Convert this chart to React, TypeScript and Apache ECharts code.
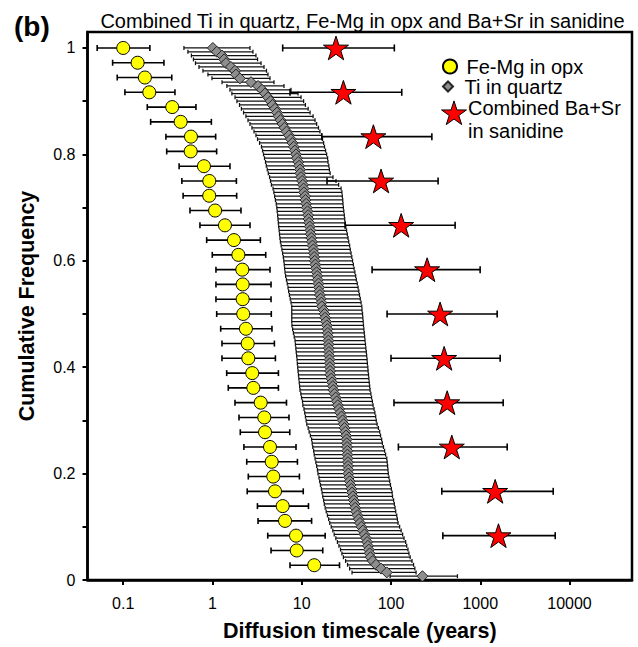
import { useEffect, useRef } from 'react';
import * as echarts from 'echarts';

// ---------- tick labels ----------
const xTickValues = [0.1, 1, 10, 100, 1000, 10000];
const yTickLabelValues = [0, 0.2, 0.4, 0.6, 0.8, 1];
const yTickValues = [0, 0.1, 0.2, 0.3, 0.4, 0.5, 0.6, 0.7, 0.8, 0.9, 1];

// ---------- Fe-Mg in opx (years), ordered from cumulative frequency 1 downward ----------
const opxTime = [0.1, 0.145, 0.175, 0.196, 0.354, 0.44, 0.574, 0.57, 0.803, 0.921, 0.92, 1.07, 1.38, 1.74, 1.95, 2.16, 2.18, 2.18, 2.21, 2.37, 2.48, 2.52, 2.79, 2.87, 3.47, 3.81, 3.88, 4.41, 4.61, 4.8, 5.02, 6.12, 6.5, 8.63, 8.79, 13.8];
const opxLow = [0.0511, 0.0761, 0.0857, 0.1045, 0.186, 0.203, 0.301, 0.307, 0.423, 0.454, 0.469, 0.56, 0.724, 0.861, 0.995, 1.094, 1.094, 1.094, 1.115, 1.236, 1.278, 1.278, 1.443, 1.504, 1.787, 1.982, 2.05, 2.25, 2.42, 2.52, 2.45, 3.19, 3.24, 4.16, 4.53, 7.39];
const opxHigh = [0.199, 0.286, 0.35, 0.38, 0.653, 0.972, 1.086, 1.114, 1.571, 1.854, 1.867, 2.087, 2.633, 3.44, 3.95, 4.41, 4.53, 4.53, 4.56, 4.64, 4.94, 5.07, 5.48, 5.48, 6.75, 7.2, 7.34, 8.63, 8.95, 9.42, 10.4, 11.9, 12.9, 18.3, 17.2, 26.5];

// ---------- Ti in quartz (years) ----------
const tiTime = [
  1.01, 1.12, 1.28, 1.35, 1.42, 1.61, 1.79, 1.83, 2.03, 2.7,
  3.24, 3.59, 3.88, 4.19, 4.47, 4.71, 5.02, 5.28, 5.5, 5.78,
  6.09, 6.41, 6.76, 7.2, 7.55, 7.85, 8.13, 8.37, 8.63, 8.85,
  9.16, 9.33, 9.57, 9.64, 9.82, 10.1, 10.3, 10.5, 10.6, 10.9,
  11.0, 11.2, 11.4, 11.6, 11.8, 11.9, 12.1, 12.3, 12.5, 12.6,
  12.8, 13.0, 13.2, 13.5, 13.7, 13.8, 14.0, 14.2, 14.5, 14.7,
  14.9, 15.1, 15.4, 15.6, 15.7, 16.0, 16.3, 16.6, 16.8, 17.6,
  18.0, 18.3, 18.7, 19.1, 19.4, 19.6, 19.8, 19.9, 20.0, 20.1,
  20.2, 20.3, 20.5, 20.6, 20.7, 20.8, 20.9, 21.4, 21.9, 22.3,
  22.6, 23.3, 24.0, 24.7, 25.4, 26.2, 27.0, 27.9, 28.7, 29.5,
  30.2, 30.8, 31.4, 31.9, 32.0, 32.2, 32.4, 32.5, 32.7, 32.9,
  33.0, 33.2, 33.3, 33.9, 34.5, 35.2, 36.0, 36.6, 37.4, 38.2,
  39.0, 39.7, 40.8, 42.1, 43.6, 44.9, 46.6, 48.4, 50.5, 52.6,
  54.0, 55.1, 56.4, 57.7, 59.0, 62.5, 68.1, 77.4, 89.7, 225
];
const tiLow = [
  0.479, 0.531, 0.581, 0.612, 0.645, 0.706, 0.782, 0.89, 0.987, 1.28,
  1.45, 1.57, 1.65, 1.79, 1.88, 2.01, 2.11, 2.23, 2.37, 2.5,
  2.63, 2.77, 2.92, 3.07, 3.2, 3.37, 3.54, 3.64, 3.73, 3.83,
  3.93, 4.01, 4.11, 4.22, 4.36, 4.47, 4.58, 4.77, 4.87, 4.97,
  5.07, 5.18, 5.26, 5.31, 5.37, 5.42, 5.47, 5.52, 5.58, 5.64,
  5.7, 5.77, 5.88, 6.0, 6.11, 6.22, 6.3, 6.37, 6.43, 6.5,
  6.6, 6.74, 6.88, 7.02, 7.13, 7.28, 7.43, 7.59, 7.73, 7.73,
  7.73, 7.73, 7.73, 7.77, 7.91, 8.07, 8.24, 8.41, 8.5, 8.59,
  8.68, 8.77, 8.86, 8.93, 9.02, 9.09, 9.19, 9.28, 9.38, 9.47,
  9.57, 9.77, 9.95, 10.2, 10.3, 10.6, 10.8, 11.0, 11.2, 11.4,
  11.8, 12.1, 12.5, 12.9, 13.1, 13.3, 13.6, 13.8, 14.1, 14.4,
  14.7, 15.0, 15.2, 15.6, 15.9, 16.2, 16.6, 16.9, 17.2, 17.6,
  17.9, 18.3, 18.8, 19.4, 20.0, 20.6, 21.4, 22.3, 23.1, 24.1,
  25.1, 26.1, 27.2, 28.2, 29.3, 31.0, 32.6, 34.4, 36.6, 97.7
];
const tiHigh = [
  2.63, 2.84, 3.07, 3.2, 3.5, 3.78, 4.03, 4.19, 4.41, 4.89,
  6.33, 7.59, 9.09, 9.82, 10.5, 11.0, 11.8, 12.4, 13.4, 14.1,
  14.7, 15.4, 16.0, 16.7, 17.1, 17.6, 18.0, 18.5, 19.0, 19.5,
  19.7, 20.1, 20.4, 20.8, 22.4, 24.2, 25.9, 27.6, 28.2, 28.5,
  28.8, 29.0, 29.3, 29.6, 30.0, 30.3, 30.6, 31.2, 31.8, 32.4,
  33.0, 33.6, 34.4, 35.0, 35.7, 36.4, 37.1, 37.9, 38.6, 39.4,
  40.2, 40.9, 41.9, 42.8, 43.6, 44.4, 45.3, 46.2, 47.1, 47.4,
  48.0, 48.4, 48.8, 49.2, 49.7, 50.2, 50.7, 51.2, 51.8, 52.3,
  52.9, 53.4, 54.0, 54.4, 55.0, 55.4, 56.0, 56.5, 57.1, 57.7,
  58.3, 59.5, 60.6, 61.9, 63.0, 64.6, 66.0, 67.4, 68.4, 69.9,
  72.3, 74.7, 76.4, 78.6, 80.1, 82.4, 84.8, 87.0, 89.7, 90.7,
  91.6, 92.5, 93.3, 95.0, 96.7, 98.7, 101, 103, 104, 107,
  109, 111, 113, 116, 118, 120, 125, 130, 135, 140,
  146, 150, 155, 159, 164, 172, 179, 185, 191, 555
];

// ---------- Combined Ba+Sr in sanidine (years) ----------
const sanTime = [24.2, 29.3, 63.5, 77.4, 130, 254, 355, 394, 426, 480, 1469, 1600];
const sanLow = [6.12, 7.39, 16.8, 19.2, 30.6, 61.4, 90.4, 100, 108, 121, 371, 381];
const sanHigh = [109, 132, 287, 337, 523, 997, 1547, 1671, 1806, 2003, 6566, 6914];

const FONT = "'Liberation Sans', Arial, sans-serif";
const STAR = 'path://M50,0L61.2,34.5L97.6,34.5L68.2,55.9L79.4,90.5L50,69.1L20.6,90.5L31.8,55.9L2.4,34.5L38.8,34.5Z';
const DIAMOND = 'path://M5,0L10,5L5,10L0,5Z';

const lg = (v: number) => Math.log10(v);
const cum = (n: number, i: number) => (n - i) / n;

// five-pointed star outline (legend glyph)
function starPoints(cx: number, cy: number, R: number) {
  const pts: number[][] = [];
  for (let k = 0; k < 10; k++) {
    const r = k % 2 === 0 ? R : R * 0.382;
    const a = -Math.PI / 2 + (k * Math.PI) / 5;
    pts.push([cx + r * Math.cos(a), cy + r * Math.sin(a)]);
  }
  return pts;
}

function errBar(lineWidth: number, cap: number, color: string) {
  return (_params: any, api: any) => {
    const y = api.value(2);
    const a = api.coord([api.value(0), y]);
    const b = api.coord([api.value(1), y]);
    const style = { stroke: color, lineWidth, fill: 'none' };
    return {
      type: 'group',
      children: [
        { type: 'line', shape: { x1: a[0], y1: a[1], x2: b[0], y2: b[1] }, style },
        { type: 'line', shape: { x1: a[0], y1: a[1] - cap, x2: a[0], y2: a[1] + cap }, style },
        { type: 'line', shape: { x1: b[0], y1: b[1] - cap, x2: b[0], y2: b[1] + cap }, style },
      ],
    };
  };
}

export default function App() {
  const ref = useRef<HTMLDivElement>(null);
  useEffect(() => {
    if (!ref.current) return;
    const chart = echarts.init(ref.current, null, { renderer: 'svg' });

    const opxPts = opxTime.map((t, i) => [lg(t), cum(opxTime.length, i)]);
    const opxBars = opxTime.map((_t, i) => [lg(opxLow[i]), lg(opxHigh[i]), cum(opxTime.length, i)]);
    const tiPts = tiTime.map((t, i) => [lg(t), cum(tiTime.length, i)]);
    const tiBars = tiTime.map((_t, i) => [lg(tiLow[i]), lg(tiHigh[i]), cum(tiTime.length, i)]);
    const sanPts = sanTime.map((t, i) => [lg(t), cum(sanTime.length, i)]);
    const sanBars = sanTime.map((_t, i) => [lg(sanLow[i]), lg(sanHigh[i]), cum(sanTime.length, i)]);

    const xTicks = xTickValues.map(lg);
    const legendText = { fontSize: 20, color: '#000', fontFamily: FONT };

    chart.setOption({
      animation: false,
      textStyle: { fontFamily: FONT },
      title: [
        {
          text: 'Combined Ti in quartz, Fe-Mg in opx and Ba+Sr in sanidine',
          left: 362.5, top: 10.5, textAlign: 'center', padding: 0,
          textStyle: { fontSize: 20, fontWeight: 'normal', color: '#000', fontFamily: FONT },
        },
        {
          text: '(b)', left: 14, top: 12, padding: 0,
          textStyle: { fontSize: 28, fontWeight: 'bold', color: '#000', fontFamily: FONT },
        },
      ],
      legend: [
        {
          data: [{ name: 'Fe-Mg in opx', icon: 'circle' }],
          left: 442, top: 56.5, itemWidth: 23, itemHeight: 14, padding: 0,
          selectedMode: false, textStyle: legendText,
        },
        {
          data: [{ name: 'Ti in quartz', icon: DIAMOND }],
          left: 442, top: 76.5, itemWidth: 23, itemHeight: 10, padding: 0,
          selectedMode: false, textStyle: legendText,
        },
      ],
      graphic: [
        {
          type: 'polygon', silent: true, z: 10,
          shape: { points: starPoints(454, 114, 13.1) },
          style: { fill: '#ff0000', stroke: '#000', lineWidth: 1 },
        },
        {
          type: 'text', silent: true, z: 10, x: 468, y: 96.8,
          style: {
            text: 'Combined Ba+Sr\nin sanidine', fill: '#000',
            fontSize: 20, fontFamily: FONT, lineHeight: 23, align: 'left', verticalAlign: 'top',
          },
        },
      ],
      grid: {
        left: 87.5, right: 6, top: 32, bottom: 62,
        show: true, borderColor: '#000', borderWidth: 2.5, backgroundColor: 'transparent',
      },
      xAxis: {
        type: 'value', min: -1.4, max: 4.7,
        name: 'Diffusion timescale (years)', nameLocation: 'middle', nameGap: 40,
        nameTextStyle: { fontSize: 21.5, fontWeight: 'bold', color: '#000', fontFamily: FONT },
        axisLine: { show: true, onZero: false, lineStyle: { color: '#000', width: 2.5 } },
        axisTick: { show: true, customValues: xTicks, length: 5, lineStyle: { color: '#000', width: 2 } },
        axisLabel: {
          customValues: xTicks, fontSize: 16, color: '#000', margin: 15, fontFamily: FONT,
          formatter: (v: number) => String(Number(Math.pow(10, v).toPrecision(6))),
        },
        splitLine: { show: false },
      },
      yAxis: {
        type: 'value', min: 0, max: 1.03,
        name: 'Cumulative Frequency', nameLocation: 'middle', nameGap: 50,
        nameTextStyle: { fontSize: 21.5, fontWeight: 'bold', color: '#000', fontFamily: FONT },
        axisLine: { show: true, onZero: false, lineStyle: { color: '#000', width: 2.5 } },
        axisTick: { show: true, customValues: yTickValues, length: 5, lineStyle: { color: '#000', width: 2 } },
        axisLabel: {
          customValues: yTickLabelValues, fontSize: 16, color: '#000', margin: 12, fontFamily: FONT,
          formatter: (v: number) => String(Number(v.toFixed(1))),
        },
        splitLine: { show: false },
      },
      series: [
        {
          type: 'custom', name: 'Ti in quartz error', data: tiBars,
          encode: { x: [0, 1], y: 2 }, renderItem: errBar(1.25, 2, '#111'), z: 1, silent: true,
        },
        {
          type: 'scatter', name: 'Ti in quartz', data: tiPts, symbol: 'diamond', symbolSize: 11, z: 2,
          itemStyle: { color: '#8e8e8e', borderColor: '#262626', borderWidth: 1, opacity: 1 },
        },
        {
          type: 'custom', name: 'Fe-Mg in opx error', data: opxBars,
          encode: { x: [0, 1], y: 2 }, renderItem: errBar(1.6, 3, '#000'), z: 3, silent: true,
        },
        {
          type: 'scatter', name: 'Fe-Mg in opx', data: opxPts, symbol: 'circle', symbolSize: 13, z: 4,
          itemStyle: { color: '#ffff00', borderColor: '#000', borderWidth: 1, opacity: 1 },
        },
        {
          type: 'custom', name: 'Combined Ba+Sr error', data: sanBars,
          encode: { x: [0, 1], y: 2 }, renderItem: errBar(1.6, 3.5, '#000'), z: 5, silent: true,
        },
        {
          type: 'scatter', name: 'Combined Ba+Sr in sanidine', data: sanPts, symbol: STAR,
          symbolSize: 25, symbolKeepAspect: true, z: 6,
          itemStyle: { color: '#ff0000', borderColor: '#000', borderWidth: 1, opacity: 1 },
        },
      ],
    });
    return () => chart.dispose();
  }, []);
  return <div ref={ref} style={{ position: 'absolute', left: 0, top: 0, width: 638, height: 647 }} />;
}
